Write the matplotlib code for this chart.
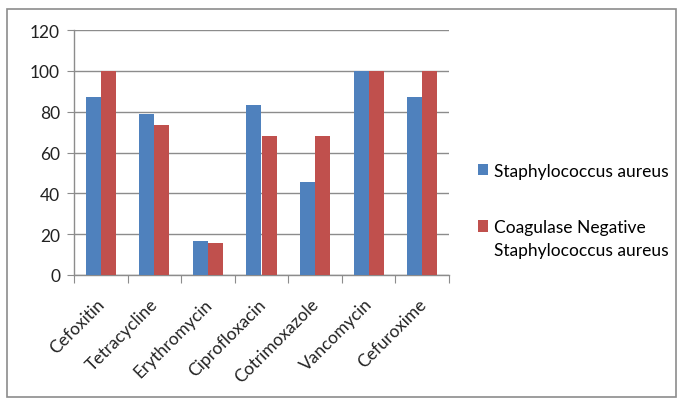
import matplotlib
matplotlib.use("Agg")
import matplotlib.pyplot as plt
from matplotlib.patches import Rectangle
import numpy as np

categories = ["Cefoxitin", "Tetracycline", "Erythromycin", "Ciprofloxacin",
              "Cotrimoxazole", "Vancomycin", "Cefuroxime"]
staph_aureus = [87.3, 79.0, 16.6, 83.4, 45.7, 100.0, 87.3]
cons = [100.0, 73.4, 15.7, 68.2, 68.2, 100.0, 100.0]
series_names = ["Staphylococcus aureus", "Coagulase Negative\nStaphylococcus aureus"]
y_ticks = [0, 20, 40, 60, 80, 100, 120]

plt.rcParams["font.family"] = ["Lato", "DejaVu Sans"]

W, H = 681, 406
fig = plt.figure(figsize=(W / 100, H / 100), dpi=100)
fig.patch.set_facecolor("white")

# outer chart-area frame
fig.add_artist(Rectangle((7 / W, 1 - 398 / H), (676 - 7) / W, (398 - 10) / H,
                         transform=fig.transFigure, fill=False,
                         edgecolor="#8c8c8c", linewidth=1.2))

left, right, top, bottom = 74, 449, 31, 276
ax = fig.add_axes([left / W, 1 - bottom / H, (right - left) / W, (bottom - top) / H])

x = np.arange(len(categories))
bw = 0.28
blue, red = "#4F81BD", "#C0504D"
ax.bar(x - bw / 2, staph_aureus, bw, color=blue, label=series_names[0], zorder=3)
ax.bar(x + bw / 2, cons, bw, color=red, label=series_names[1], zorder=3)

ax.set_xlim(-0.5, len(categories) - 0.5)
ax.set_ylim(0, 120)
ax.set_yticks(y_ticks)
ax.yaxis.grid(True, color="#8c8c8c", linewidth=1.0, zorder=0)
ax.tick_params(axis="y", length=5, color="#8c8c8c", labelsize=12.5, pad=5,
               labelcolor="#222222")

# category boundary ticks on the x axis
ax.set_xticks(np.arange(-0.5, len(categories), 1.0))
ax.set_xticklabels([])
ax.tick_params(axis="x", length=6, color="#8c8c8c", direction="out")
for i, name in enumerate(categories):
    ax.text(i - 0.08, -10, name, rotation=45, ha="right", va="top",
            rotation_mode="anchor", fontsize=12.5, color="#222222")

for s in ["top", "right"]:
    ax.spines[s].set_visible(False)
for s in ["left", "bottom"]:
    ax.spines[s].set_color("#8c8c8c")
    ax.spines[s].set_linewidth(1.0)

handles, labels = ax.get_legend_handles_labels()
leg = fig.legend(handles, labels, loc="upper left",
                 bbox_to_anchor=(462 / W, 1 - 148 / H), frameon=False,
                 fontsize=12.5, handlelength=0.6, handleheight=0.6,
                 handletextpad=0.35, labelspacing=2.3)
for t in leg.get_texts():
    t.set_linespacing(1.55)
# align the two-line entry's swatch with its first line
second = leg.legend_handles[1]
second.set_y(second.get_y() + 9)

fig.savefig("out.png", dpi=100)
